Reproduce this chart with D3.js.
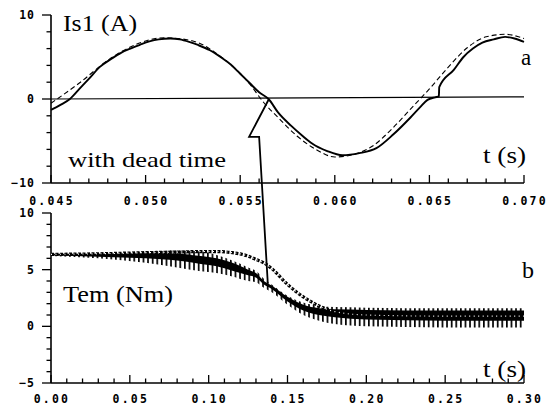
<!DOCTYPE html>
<html>
<head>
<meta charset="utf-8">
<script src="https://cdn.jsdelivr.net/npm/d3@7"></script>
<style>
  html, body { margin: 0; padding: 0; background: #fff; }
  svg { display: block; }
  .tick-label { font-family: "DejaVu Sans Mono", monospace; font-weight: bold; font-size: 11.5px; fill: #000; }
  .serif { font-family: "Liberation Serif", "Times New Roman", serif; fill: #000; }
</style>
</head>
<body>
<svg id="chart" width="547" height="407"></svg>
<script>
// ---------- Panel a: stator current Is1 (A) ----------
const isTime = [0.0450,0.0455,0.0460,0.0465,0.0470,0.0476,0.0482,0.0487,0.0492,0.0497,0.0502,0.0507,0.0513,0.0518,0.0523,0.0528,0.0534,0.0539,0.0545,0.0550,0.0555,0.0560,0.0565,0.0570,0.0577,0.0583,0.0588,0.0596,0.0604,0.0613,0.0622,0.0631,0.0640,0.0645,0.0649,0.0653,0.0655,0.06552,0.0663,0.0668,0.0673,0.0678,0.0684,0.0690,0.0695,0.0700];
const isDeadTime = [-1.3,-0.7,0.0,1.2,2.4,3.85,4.8,5.5,6.0,6.45,6.85,7.1,7.2,7.1,6.8,6.4,5.8,5.1,4.1,3.0,1.9,0.8,0.0,-1.6,-3.2,-4.4,-5.3,-6.2,-6.7,-6.45,-5.85,-4.2,-2.2,-1.0,-0.1,0.2,0.3,1.4,3.5,5.0,6.0,6.7,7.1,7.4,7.2,6.8];

const isRefTime = [0.045,0.0465,0.048,0.0495,0.051,0.0525,0.054,0.0555,0.0562,0.057,0.058,0.059,0.060,0.061,0.062,0.063,0.064,0.065,0.066,0.067,0.068,0.069,0.070];
const isRef = [-0.5,1.9,4.6,6.5,7.3,6.9,5.0,1.8,-0.3,-2.2,-4.4,-6.0,-6.9,-6.6,-5.6,-3.6,-1.2,1.2,3.8,6.1,7.4,7.7,7.2];

// ---------- Panel b: electromagnetic torque Tem (Nm) ----------
const temTime      = [0,   0.03,0.06,0.08,0.095,0.105,0.115,0.125,0.13,0.135,0.14,0.15,0.16,0.17,0.18,0.20,0.25,0.30];
const temUpper     = [6.4, 6.45,6.6, 6.7, 6.6, 6.3, 5.8, 5.2, 4.9, 4.2, 3.7, 2.7, 2.1, 1.8, 1.7, 1.65,1.6, 1.6];
const temCoreUpper = [6.4, 6.4, 6.45,6.4, 6.2, 6.0, 5.6, 5.0, 4.7, 4.0, 3.6, 2.6, 1.9, 1.6, 1.5, 1.45,1.4, 1.4];
const temCoreLower = [6.25,6.15,6.0, 5.8, 5.5, 5.3, 4.9, 4.5, 4.3, 3.7, 3.3, 2.2, 1.4, 1.0, 0.8, 0.6, 0.5, 0.5];
const temLower     = [6.2, 6.0, 5.6, 5.2, 4.85,4.7, 4.4, 4.0, 3.9, 3.4, 3.0, 1.9, 1.0, 0.5, 0.2, 0.0, -0.1,-0.1];
const temRef       = [6.35,6.4, 6.5, 6.55,6.6, 6.6, 6.5, 6.2, 5.9, 5.6, 5.1, 3.7, 2.6, 1.8, 1.3, 1.0, 0.9, 0.9];

// ---------- Axis ticks ----------
const topXTickLabels = ["0.045","0.050","0.055","0.060","0.065","0.070"];
const topYTickLabels = ["10","0","-10"];
const botXTickLabels = ["0.00","0.05","0.10","0.15","0.20","0.25","0.30"];
const botYTickLabels = ["10","5","0","-5"];

// ---------- Arrow (from current zero crossing to torque drop) ----------
const arrowTop = [[0.05652, 0], [0.05547, -4.5], [0.05600, -4.5]];
const arrowBottom = [0.1375, 3.8];

const svg = d3.select("#chart");

const xTop = d3.scaleLinear().domain([0.045, 0.070]).range([51, 524]);
const yTop = d3.scaleLinear().domain([-10, 10]).range([183, 15]);
const xBot = d3.scaleLinear().domain([0, 0.30]).range([51, 524]);
const yBot = d3.scaleLinear().domain([-5, 10]).range([383, 213]);

// pattern for oscillation teeth
const defs = svg.append("defs");
const pat = defs.append("pattern").attr("id", "teeth").attr("patternUnits", "userSpaceOnUse")
  .attr("width", 4.6).attr("height", 10);
pat.append("rect").attr("x", 0).attr("y", 0).attr("width", 1.7).attr("height", 10).attr("fill", "#000");

function drawAxes(g, xs, ys, xMinorStep, xLabels, yMinorStep, yLabels, xDomain, yDomain, labelOffset) {
  g.append("line").attr("x1", xs.range()[0]).attr("x2", xs.range()[0])
    .attr("y1", ys(yDomain[0])).attr("y2", ys(yDomain[1])).attr("stroke", "#000").attr("stroke-width", 1.6);
  g.append("line").attr("x1", xs.range()[0]).attr("x2", xs.range()[1])
    .attr("y1", ys(yDomain[0])).attr("y2", ys(yDomain[0])).attr("stroke", "#000").attr("stroke-width", 1.6);
  const nx = Math.round((xDomain[1] - xDomain[0]) / xMinorStep);
  for (let i = 0; i <= nx; i++) {
    const v = xDomain[0] + i * xMinorStep;
    const major = i % 5 === 0;
    g.append("line").attr("x1", xs(v)).attr("x2", xs(v))
      .attr("y1", ys(yDomain[0])).attr("y2", ys(yDomain[0]) - (major ? 8 : 4.5))
      .attr("stroke", "#000").attr("stroke-width", 1.3);
  }
  xLabels.forEach(l => {
    g.append("text").attr("class", "tick-label").attr("x", xs(+l) + 1).attr("y", ys(yDomain[0]) + labelOffset)
      .attr("text-anchor", "middle").attr("letter-spacing", "2.2px").text(l);
  });
  const ny = Math.round((yDomain[1] - yDomain[0]) / yMinorStep);
  for (let i = 0; i <= ny; i++) {
    const v = yDomain[0] + i * yMinorStep;
    const major = yLabels.includes(String(v));
    g.append("line").attr("x1", xs.range()[0]).attr("x2", xs.range()[0] - (major ? 9 : 4.5))
      .attr("y1", ys(v)).attr("y2", ys(v)).attr("stroke", "#000").attr("stroke-width", 1.3);
  }
  yLabels.forEach(l => {
    g.append("text").attr("class", "tick-label").attr("x", xs.range()[0] - 16).attr("y", ys(+l))
      .attr("dy", "0.35em").attr("text-anchor", "end").attr("letter-spacing", "1px")
      .text(l.startsWith("-") ? "\u2212" + l.slice(1) : l);
  });
}

// ----- Panel a -----
const gA = svg.append("g");
drawAxes(gA, xTop, yTop, 0.001, topXTickLabels, 2, topYTickLabels, [0.045, 0.070], [-10, 10], 22);
gA.append("line").attr("x1", xTop(0.045)).attr("x2", xTop(0.070)).attr("y1", yTop(0)).attr("y2", yTop(0.25))
  .attr("stroke", "#000").attr("stroke-width", 1.2);

gA.append("path").datum(isRefTime.map((t, i) => [t, isRef[i]]))
  .attr("d", d3.line().x(d => xTop(d[0])).y(d => yTop(d[1])).curve(d3.curveMonotoneX))
  .attr("fill", "none").attr("stroke", "#000")
  .attr("stroke-width", 1.1).attr("stroke-dasharray", "5,3");
gA.append("path").datum(isTime.map((t, i) => [t, isDeadTime[i]]))
  .attr("d", d3.line().x(d => xTop(d[0])).y(d => yTop(d[1])).curve(d3.curveMonotoneX))
  .attr("fill", "none").attr("stroke", "#000").attr("stroke-width", 1.9);

gA.append("text").attr("class", "serif").attr("x", 63).attr("y", 31).attr("font-size", 23)
  .attr("textLength", 74).attr("lengthAdjust", "spacingAndGlyphs").text("Is1 (A)");
gA.append("text").attr("class", "serif").attr("x", 521).attr("y", 65).attr("font-size", 23).text("a");
gA.append("text").attr("class", "serif").attr("x", 68).attr("y", 167).attr("font-size", 22)
  .attr("textLength", 158).attr("lengthAdjust", "spacingAndGlyphs").text("with dead time");
gA.append("text").attr("class", "serif").attr("x", 483).attr("y", 163).attr("font-size", 23)
  .attr("textLength", 43).attr("lengthAdjust", "spacingAndGlyphs").text("t (s)");

// ----- Panel b -----
const gB = svg.append("g");
drawAxes(gB, xBot, yBot, 0.01, botXTickLabels, 1, botYTickLabels, [0, 0.30], [-5, 10], 20);

const bandData = temTime.map((t, i) => ({t, up: temUpper[i], cu: temCoreUpper[i], cl: temCoreLower[i], lo: temLower[i], ref: temRef[i]}));
gB.append("path").datum(bandData)
  .attr("d", d3.area().x(d => xBot(d.t)).y0(d => yBot(d.lo)).y1(d => yBot(d.up)).curve(d3.curveMonotoneX))
  .attr("fill", "url(#teeth)");
gB.append("path").datum(bandData)
  .attr("d", d3.area().x(d => xBot(d.t)).y0(d => yBot(d.cl)).y1(d => yBot(d.cu)).curve(d3.curveMonotoneX))
  .attr("fill", "#000");
const refLine = d3.line().x(d => xBot(d.t)).y(d => yBot(d.ref)).curve(d3.curveMonotoneX);
gB.append("path").datum(bandData).attr("d", refLine).attr("fill", "none")
  .attr("stroke", "#000").attr("stroke-width", 3.2).attr("stroke-dasharray", "3,1.5");
gB.append("path").datum(bandData).attr("d", refLine).attr("fill", "none")
  .attr("stroke", "#fff").attr("stroke-width", 1.1).attr("stroke-dasharray", "1,3.5");

gB.append("text").attr("class", "serif").attr("x", 522).attr("y", 278).attr("font-size", 24).text("b");
gB.append("text").attr("class", "serif").attr("x", 63).attr("y", 302).attr("font-size", 23)
  .attr("textLength", 110).attr("lengthAdjust", "spacingAndGlyphs").text("Tem (Nm)");
gB.append("text").attr("class", "serif").attr("x", 483).attr("y", 377).attr("font-size", 23)
  .attr("textLength", 43).attr("lengthAdjust", "spacingAndGlyphs").text("t (s)");

// ----- Arrow -----
const arrowPts = arrowTop.map(p => [xTop(p[0]), yTop(p[1])]).concat([[xBot(arrowBottom[0]), yBot(arrowBottom[1])]]);
svg.append("path").attr("d", d3.line()(arrowPts)).attr("fill", "none").attr("stroke", "#000")
  .attr("stroke-width", 1.8).attr("stroke-linejoin", "miter");
</script>
</body>
</html>
